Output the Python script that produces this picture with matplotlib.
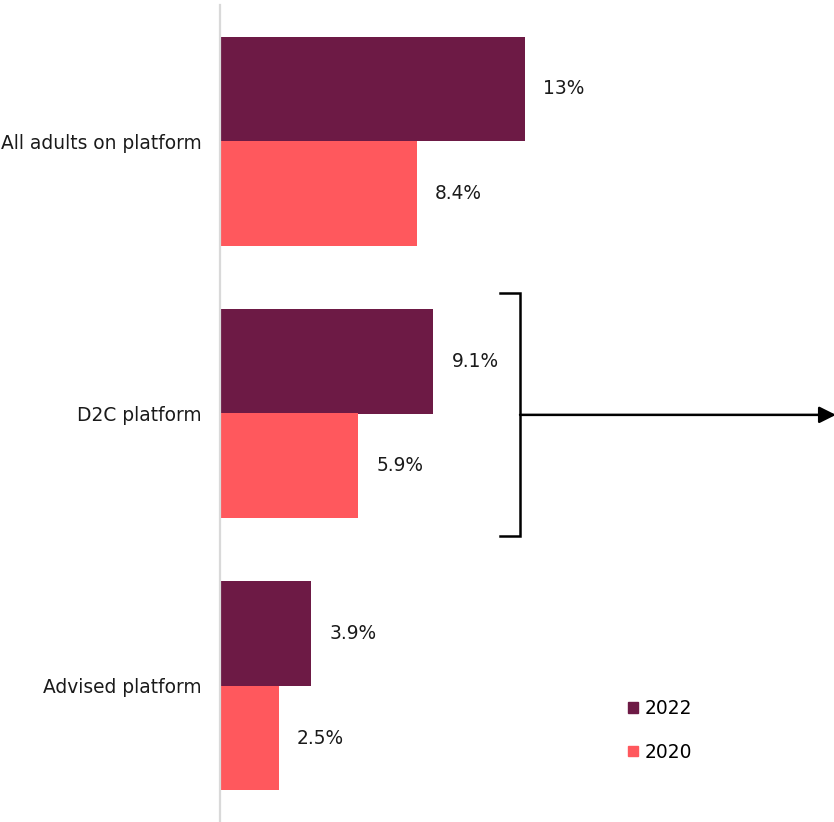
import matplotlib
matplotlib.use("Agg")
import matplotlib.pyplot as plt
from matplotlib.patches import Patch
import numpy as np

categories = ["All adults on platform", "D2C platform", "Advised platform"]
values_2022 = [13.0, 9.1, 3.9]
values_2020 = [8.4, 5.9, 2.5]
labels_2022 = ["13%", "9.1%", "3.9%"]
labels_2020 = ["8.4%", "5.9%", "2.5%"]
series_names = ["2022", "2020"]

c2022 = "#6d1a45"
c2020 = "#ff585d"

plt.rcParams["font.family"] = ["DejaVu Sans"]
fig = plt.figure(figsize=(8.34, 8.22), dpi=100)
W, H = 834, 822
ax = fig.add_axes([220 / W, 0, 1 - 220 / W, 1 - 5 / H])

y = np.arange(len(categories))
h = 0.384
ax.barh(y - h / 2, values_2022, height=h, color=c2022, label=series_names[0])
ax.barh(y + h / 2, values_2020, height=h, color=c2020, label=series_names[1])

fs = 13.4
off = 0.77
for yi, v, t in zip(y, values_2022, labels_2022):
    ax.text(v + off, yi - h / 2, t, va="center", ha="left", fontsize=fs, color="#1a1a1a")
for yi, v, t in zip(y, values_2020, labels_2020):
    ax.text(v + off, yi + h / 2, t, va="center", ha="left", fontsize=fs, color="#1a1a1a")

ax.set_xlim(0, 614 / 23.46)
ax.set_ylim(2.5, -0.5)
ax.set_yticks(y)
ax.set_yticklabels(categories, fontsize=fs, color="#1a1a1a")
ax.tick_params(axis="y", length=0, pad=13.5)
ax.set_xticks([])
for s in ["top", "right", "bottom"]:
    ax.spines[s].set_visible(False)
ax.spines["left"].set_color("#d9d9d9")
ax.spines["left"].set_linewidth(1.6)

# Bracket around the D2C group and arrow pointing right
bx, btick = 12.79, 11.94
ytop, ybot = 0.558, 1.451
ax.plot([btick, bx, bx, btick], [ytop, ytop, ybot, ybot], color="black", lw=1.8,
        solid_joinstyle="miter", clip_on=False)
ax.annotate("", xy=(614 / 23.46 + 0.08, 1.005), xytext=(bx, 1.005),
            arrowprops=dict(arrowstyle="-|>,head_length=1.0,head_width=0.5",
                            color="black", lw=1.8, shrinkA=0, shrinkB=0),
            annotation_clip=False)

handles = [Patch(color=c2022, label=series_names[0]), Patch(color=c2020, label=series_names[1])]
fig.legend(handles=handles, loc="upper left", bbox_to_anchor=(619 / W, 1 - 690 / H),
           frameon=False, fontsize=fs, handlelength=0.5, handleheight=0.5,
           handletextpad=0.35, labelspacing=1.3, borderpad=0)

fig.savefig("out.png", dpi=100, facecolor="white")
